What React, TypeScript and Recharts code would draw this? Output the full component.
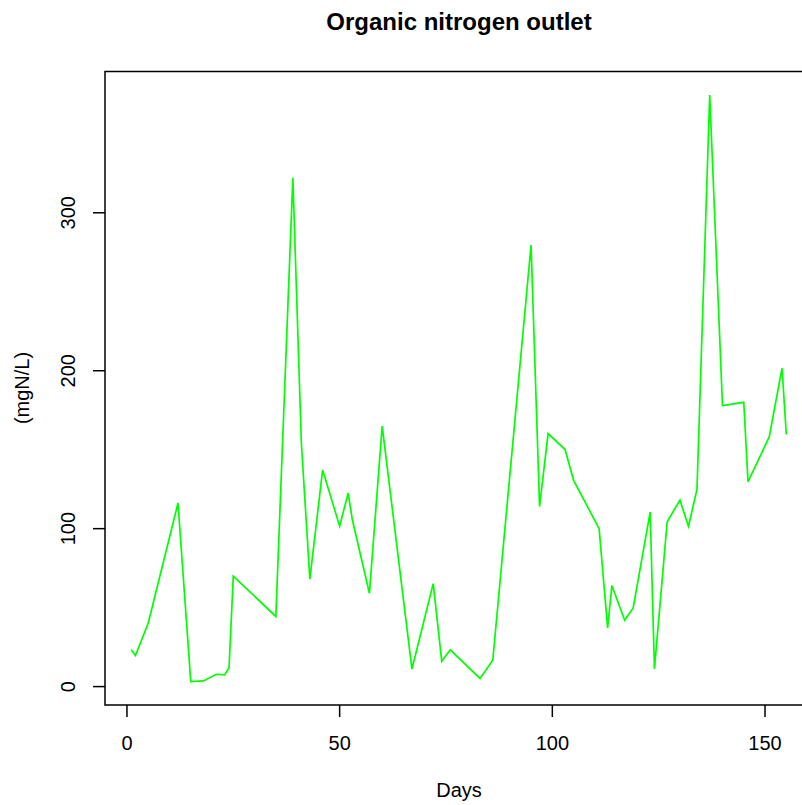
import { LineChart, Line, XAxis, YAxis, ReferenceArea } from 'recharts';

const days = [
  1, 2, 5, 12, 15, 18, 21, 23, 24, 25, 35, 39, 41, 43, 46, 50, 52, 53, 57, 60,
  67, 72, 74, 76, 83, 86, 95, 97, 99, 103, 105, 111, 113, 114, 117, 119, 123,
  124, 127, 130, 132, 134, 137, 140, 145, 146, 151, 154, 155,
];
const orgN = [
  23.3, 19.7, 40.1, 116.2, 3.2, 3.6, 7.8, 7.4, 11.9, 70, 44.4, 322.2, 154.2,
  68.1, 137.2, 101.6, 122.5, 105.5, 59.1, 164.9, 11.1, 65.2, 16, 23.3, 5.2,
  16.7, 279.6, 114.1, 160.2, 150.1, 130.6, 100, 37.2, 64, 42, 49.8, 110.5,
  11.2, 104.4, 118.1, 101.5, 124.8, 374.6, 177.9, 180, 129.7, 158.2, 201.6,
  159.7,
];
const xTicks = [0, 50, 100, 150];
const yTicks = [0, 100, 200, 300];

const data = days.map((d, i) => ({ day: d, value: orgN[i] }));

// R style 4% padding on both axes
const xPad = (Math.max(...days) - Math.min(...days)) * 0.04;
const yPad = (Math.max(...orgN) - Math.min(...orgN)) * 0.04;
const xDomain = [Math.min(...days) - xPad, Math.max(...days) + xPad];
const yDomain = [Math.min(...orgN) - yPad, Math.max(...orgN) + yPad];

const FONT = '"Liberation Sans", Arial, Helvetica, sans-serif';

const XTick = (props: any) => {
  const { x, y, payload } = props;
  return (
    <text x={x} y={y + 33} textAnchor="middle" fontSize={20} fontFamily={FONT} fill="#000">
      {payload.value}
    </text>
  );
};

const YTick = (props: any) => {
  const { x, y, payload } = props;
  const bx = x - 18;
  return (
    <text
      x={bx}
      y={y}
      textAnchor="middle"
      fontSize={20}
      fontFamily={FONT}
      fill="#000"
      transform={`rotate(-90, ${bx}, ${y})`}
    >
      {payload.value}
    </text>
  );
};

const App = () => {
  return (
    <div
      style={{
        position: 'absolute',
        left: 0,
        top: 0,
        width: 802,
        height: 805,
        overflow: 'hidden',
        background: '#fff',
      }}
    >
      <LineChart
        width={830}
        height={805}
        data={data}
        margin={{ top: 71.5, right: 17.5, left: 0, bottom: 0 }}
      >
        <XAxis
          dataKey="day"
          type="number"
          domain={xDomain}
          allowDataOverflow
          ticks={xTicks}
          axisLine={false}
          tickSize={12}
          tickMargin={0}
          tickLine={{ stroke: '#000', strokeWidth: 1.5 }}
          tick={<XTick />}
          height={100}
          interval={0}
        />
        <YAxis
          dataKey="value"
          type="number"
          domain={yDomain}
          allowDataOverflow
          ticks={yTicks}
          axisLine={false}
          tickSize={12}
          tickMargin={0}
          tickLine={{ stroke: '#000', strokeWidth: 1.5 }}
          tick={<YTick />}
          width={105}
          interval={0}
        />
        <ReferenceArea
          x1={xDomain[0]}
          x2={xDomain[1]}
          y1={yDomain[0]}
          y2={yDomain[1]}
          fill="none"
          fillOpacity={0}
          stroke="#000"
          strokeWidth={1.5}
        />
        <Line
          type="linear"
          dataKey="value"
          stroke="#00ff00"
          strokeWidth={1.7}
          dot={false}
          isAnimationActive={false}
        />
      </LineChart>
      <svg
        width={802}
        height={805}
        style={{ position: 'absolute', left: 0, top: 0, pointerEvents: 'none' }}
      >
        <text x={459} y={30} textAnchor="middle" fontSize={24} fontWeight="bold" fontFamily={FONT} fill="#000">
          Organic nitrogen outlet
        </text>
        <text x={459} y={797} textAnchor="middle" fontSize={20} fontFamily={FONT} fill="#000">
          Days
        </text>
        <text
          x={29}
          y={388}
          textAnchor="middle"
          fontSize={20}
          fontFamily={FONT}
          fill="#000"
          transform="rotate(-90, 29, 388)"
        >
          (mgN/L)
        </text>
      </svg>
    </div>
  );
};

export default App;
